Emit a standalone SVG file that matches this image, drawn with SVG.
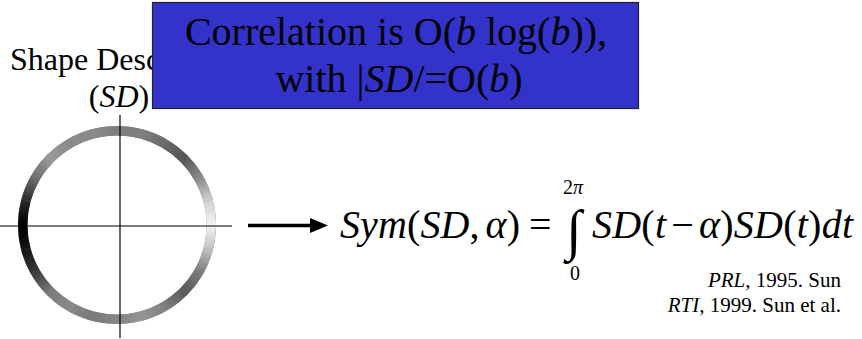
<svg xmlns="http://www.w3.org/2000/svg" width="862" height="339" viewBox="0 0 862 339">
<style>
text{font-family:"Liberation Serif","Times New Roman",serif;fill:#000}
.it{font-style:italic}
.seg{fill:none;stroke-width:9.5;stroke-linecap:butt}
.axis{stroke:#000;stroke-width:1.2}
</style>
<defs>
<linearGradient id="g0" gradientUnits="userSpaceOnUse" x1="211.3" y1="225" x2="208.09" y2="200.6"><stop offset="0" stop-color="#f4f4f4"/><stop offset="1" stop-color="#d0d0d0"/></linearGradient>
<linearGradient id="g1" gradientUnits="userSpaceOnUse" x1="208.09" y1="200.6" x2="198.66" y2="177.85"><stop offset="0" stop-color="#d0d0d0"/><stop offset="1" stop-color="#8a8a8a"/></linearGradient>
<linearGradient id="g2" gradientUnits="userSpaceOnUse" x1="198.66" y1="177.85" x2="183.68" y2="158.32"><stop offset="0" stop-color="#8a8a8a"/><stop offset="1" stop-color="#555"/></linearGradient>
<linearGradient id="g3" gradientUnits="userSpaceOnUse" x1="183.68" y1="158.32" x2="164.15" y2="143.34"><stop offset="0" stop-color="#555"/><stop offset="1" stop-color="#6a6a6a"/></linearGradient>
<linearGradient id="g4" gradientUnits="userSpaceOnUse" x1="164.15" y1="143.34" x2="141.4" y2="133.91"><stop offset="0" stop-color="#6a6a6a"/><stop offset="1" stop-color="#808080"/></linearGradient>
<linearGradient id="g5" gradientUnits="userSpaceOnUse" x1="141.4" y1="133.91" x2="117" y2="130.7"><stop offset="0" stop-color="#808080"/><stop offset="1" stop-color="#7c7c7c"/></linearGradient>
<linearGradient id="g6" gradientUnits="userSpaceOnUse" x1="117" y1="130.7" x2="92.6" y2="133.91"><stop offset="0" stop-color="#7c7c7c"/><stop offset="1" stop-color="#8c8c8c"/></linearGradient>
<linearGradient id="g7" gradientUnits="userSpaceOnUse" x1="92.6" y1="133.91" x2="69.85" y2="143.34"><stop offset="0" stop-color="#8c8c8c"/><stop offset="1" stop-color="#8a8a8a"/></linearGradient>
<linearGradient id="g8" gradientUnits="userSpaceOnUse" x1="69.85" y1="143.34" x2="50.32" y2="158.32"><stop offset="0" stop-color="#8a8a8a"/><stop offset="1" stop-color="#9a9a9a"/></linearGradient>
<linearGradient id="g9" gradientUnits="userSpaceOnUse" x1="50.32" y1="158.32" x2="35.34" y2="177.85"><stop offset="0" stop-color="#9a9a9a"/><stop offset="1" stop-color="#6e6e6e"/></linearGradient>
<linearGradient id="g10" gradientUnits="userSpaceOnUse" x1="35.34" y1="177.85" x2="25.91" y2="200.6"><stop offset="0" stop-color="#6e6e6e"/><stop offset="1" stop-color="#2a2a2a"/></linearGradient>
<linearGradient id="g11" gradientUnits="userSpaceOnUse" x1="25.91" y1="200.6" x2="22.7" y2="225"><stop offset="0" stop-color="#2a2a2a"/><stop offset="1" stop-color="#000"/></linearGradient>
<linearGradient id="g12" gradientUnits="userSpaceOnUse" x1="22.7" y1="225" x2="25.91" y2="249.4"><stop offset="0" stop-color="#000"/><stop offset="1" stop-color="#141414"/></linearGradient>
<linearGradient id="g13" gradientUnits="userSpaceOnUse" x1="25.91" y1="249.4" x2="35.34" y2="272.15"><stop offset="0" stop-color="#141414"/><stop offset="1" stop-color="#3a3a3a"/></linearGradient>
<linearGradient id="g14" gradientUnits="userSpaceOnUse" x1="35.34" y1="272.15" x2="50.32" y2="291.68"><stop offset="0" stop-color="#3a3a3a"/><stop offset="1" stop-color="#7a7a7a"/></linearGradient>
<linearGradient id="g15" gradientUnits="userSpaceOnUse" x1="50.32" y1="291.68" x2="69.85" y2="306.66"><stop offset="0" stop-color="#7a7a7a"/><stop offset="1" stop-color="#8a8a8a"/></linearGradient>
<linearGradient id="g16" gradientUnits="userSpaceOnUse" x1="69.85" y1="306.66" x2="92.6" y2="316.09"><stop offset="0" stop-color="#8a8a8a"/><stop offset="1" stop-color="#7a7a7a"/></linearGradient>
<linearGradient id="g17" gradientUnits="userSpaceOnUse" x1="92.6" y1="316.09" x2="117" y2="319.3"><stop offset="0" stop-color="#7a7a7a"/><stop offset="1" stop-color="#858585"/></linearGradient>
<linearGradient id="g18" gradientUnits="userSpaceOnUse" x1="117" y1="319.3" x2="141.4" y2="316.09"><stop offset="0" stop-color="#858585"/><stop offset="1" stop-color="#959595"/></linearGradient>
<linearGradient id="g19" gradientUnits="userSpaceOnUse" x1="141.4" y1="316.09" x2="164.15" y2="306.66"><stop offset="0" stop-color="#959595"/><stop offset="1" stop-color="#808080"/></linearGradient>
<linearGradient id="g20" gradientUnits="userSpaceOnUse" x1="164.15" y1="306.66" x2="183.68" y2="291.68"><stop offset="0" stop-color="#808080"/><stop offset="1" stop-color="#5a5a5a"/></linearGradient>
<linearGradient id="g21" gradientUnits="userSpaceOnUse" x1="183.68" y1="291.68" x2="198.66" y2="272.15"><stop offset="0" stop-color="#5a5a5a"/><stop offset="1" stop-color="#7a7a7a"/></linearGradient>
<linearGradient id="g22" gradientUnits="userSpaceOnUse" x1="198.66" y1="272.15" x2="208.09" y2="249.4"><stop offset="0" stop-color="#7a7a7a"/><stop offset="1" stop-color="#c0c0c0"/></linearGradient>
<linearGradient id="g23" gradientUnits="userSpaceOnUse" x1="208.09" y1="249.4" x2="211.3" y2="225"><stop offset="0" stop-color="#c0c0c0"/><stop offset="1" stop-color="#f4f4f4"/></linearGradient>
</defs>
<rect width="862" height="339" fill="#fff"/>

<g id="shape-descriptor-label">
<text x="10" y="70" font-size="32">Shape Desc</text>
<text x="119" y="107" font-size="32" text-anchor="middle">(<tspan class="it">SD</tspan>)</text>
</g>

<g id="shape-descriptor">
<circle cx="117" cy="225" r="94.3" fill="none" stroke="#808080" stroke-width="9.5"/>
<path class="seg" stroke="url(#g0)" d="M211.3 225A94.3 94.3 0 0 0 208.09 200.6"/>
<path class="seg" stroke="url(#g1)" d="M208.09 200.6A94.3 94.3 0 0 0 198.66 177.85"/>
<path class="seg" stroke="url(#g2)" d="M198.66 177.85A94.3 94.3 0 0 0 183.68 158.32"/>
<path class="seg" stroke="url(#g3)" d="M183.68 158.32A94.3 94.3 0 0 0 164.15 143.34"/>
<path class="seg" stroke="url(#g4)" d="M164.15 143.34A94.3 94.3 0 0 0 141.4 133.91"/>
<path class="seg" stroke="url(#g5)" d="M141.4 133.91A94.3 94.3 0 0 0 117 130.7"/>
<path class="seg" stroke="url(#g6)" d="M117 130.7A94.3 94.3 0 0 0 92.6 133.91"/>
<path class="seg" stroke="url(#g7)" d="M92.6 133.91A94.3 94.3 0 0 0 69.85 143.34"/>
<path class="seg" stroke="url(#g8)" d="M69.85 143.34A94.3 94.3 0 0 0 50.32 158.32"/>
<path class="seg" stroke="url(#g9)" d="M50.32 158.32A94.3 94.3 0 0 0 35.34 177.85"/>
<path class="seg" stroke="url(#g10)" d="M35.34 177.85A94.3 94.3 0 0 0 25.91 200.6"/>
<path class="seg" stroke="url(#g11)" d="M25.91 200.6A94.3 94.3 0 0 0 22.7 225"/>
<path class="seg" stroke="url(#g12)" d="M22.7 225A94.3 94.3 0 0 0 25.91 249.4"/>
<path class="seg" stroke="url(#g13)" d="M25.91 249.4A94.3 94.3 0 0 0 35.34 272.15"/>
<path class="seg" stroke="url(#g14)" d="M35.34 272.15A94.3 94.3 0 0 0 50.32 291.68"/>
<path class="seg" stroke="url(#g15)" d="M50.32 291.68A94.3 94.3 0 0 0 69.85 306.66"/>
<path class="seg" stroke="url(#g16)" d="M69.85 306.66A94.3 94.3 0 0 0 92.6 316.09"/>
<path class="seg" stroke="url(#g17)" d="M92.6 316.09A94.3 94.3 0 0 0 117 319.3"/>
<path class="seg" stroke="url(#g18)" d="M117 319.3A94.3 94.3 0 0 0 141.4 316.09"/>
<path class="seg" stroke="url(#g19)" d="M141.4 316.09A94.3 94.3 0 0 0 164.15 306.66"/>
<path class="seg" stroke="url(#g20)" d="M164.15 306.66A94.3 94.3 0 0 0 183.68 291.68"/>
<path class="seg" stroke="url(#g21)" d="M183.68 291.68A94.3 94.3 0 0 0 198.66 272.15"/>
<path class="seg" stroke="url(#g22)" d="M198.66 272.15A94.3 94.3 0 0 0 208.09 249.4"/>
<path class="seg" stroke="url(#g23)" d="M208.09 249.4A94.3 94.3 0 0 0 211.3 225"/>
<line class="axis" x1="120" y1="115" x2="120" y2="338"/>
<line class="axis" x1="0" y1="226" x2="232" y2="226"/>
</g>

<g id="complexity-note">
<rect x="152.5" y="2.5" width="486" height="106" fill="#3333cc" stroke="#222" stroke-width="1.2"/>
<text x="396" y="45" font-size="40" text-anchor="middle">Correlation is O(<tspan class="it">b</tspan> log(<tspan class="it">b</tspan>)),</text>
<text x="399" y="92" font-size="40" text-anchor="middle">with |<tspan class="it">SD</tspan>/=O(<tspan class="it">b</tspan>)</text>
</g>

<g id="connectors">
<line x1="248" y1="225.5" x2="312" y2="225.5" stroke="#000" stroke-width="3.5"/>
<polygon points="310,218 328,225.5 310,233" fill="#000"/>
</g>

<g id="sym-formula">
<text x="340" y="238" font-size="40" textLength="180" lengthAdjust="spacing"><tspan class="it">Sym</tspan>(<tspan class="it">SD</tspan>,<tspan class="it" dx="6">α</tspan>)</text>
<text x="529" y="238" font-size="40">=</text>
<text x="566" y="249" font-size="56">∫</text>
<text x="563" y="194" font-size="20">2<tspan class="it">π</tspan></text>
<text x="570" y="280" font-size="20">0</text>
<text x="592" y="238" font-size="40" textLength="261" lengthAdjust="spacing"><tspan class="it">SD</tspan>(<tspan class="it">t</tspan><tspan dx="5">−</tspan><tspan class="it" dx="5">α</tspan>)<tspan class="it">SD</tspan>(<tspan class="it">t</tspan>)<tspan class="it">dt</tspan></text>
</g>

<g id="references">
<text x="841" y="287" font-size="21" text-anchor="end"><tspan class="it">PRL</tspan>, 1995. Sun</text>
<text x="841" y="312" font-size="21" text-anchor="end"><tspan class="it">RTI</tspan>, 1999. Sun et al.</text>
</g>
</svg>
